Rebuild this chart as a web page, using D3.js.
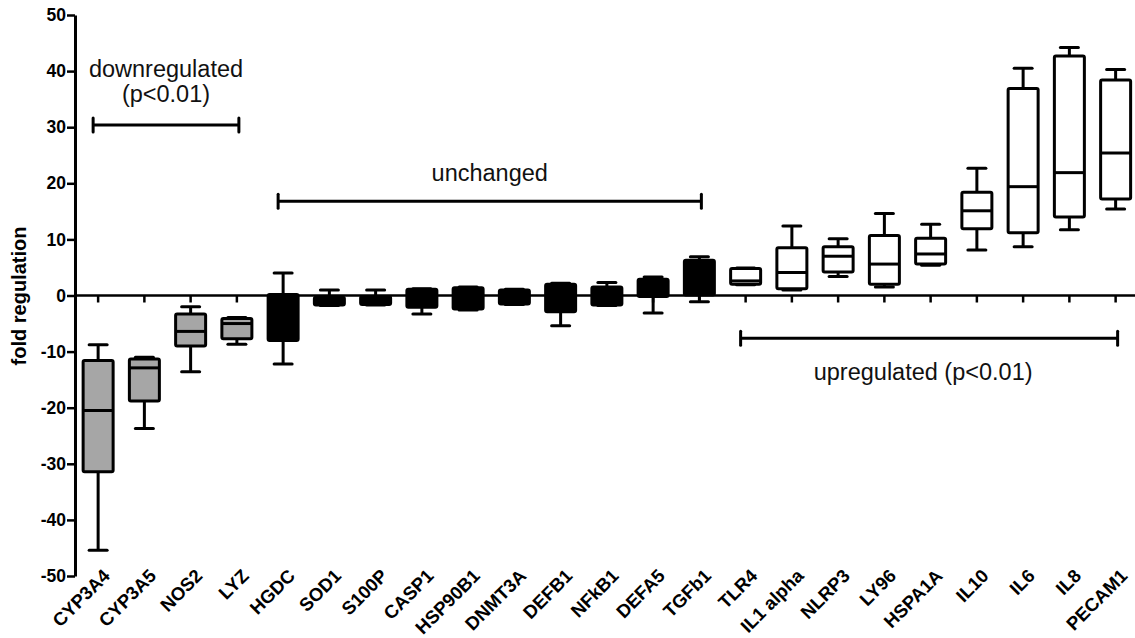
<!DOCTYPE html>
<html>
<head>
<meta charset="utf-8">
<script src="https://cdn.jsdelivr.net/npm/d3@7"></script>
<style>
  html, body { margin: 0; padding: 0; background: #fff; }
  svg { display: block; }
  text { font-family: "Liberation Sans", Arial, Helvetica, sans-serif; }
</style>
</head>
<body>
<svg id="chart" width="1135" height="638"></svg>
<script>
// ---------- data ----------
const categories = ["CYP3A4","CYP3A5","NOS2","LYZ","HGDC","SOD1","S100P","CASP1","HSP90B1","DNMT3A","DEFB1","NFkB1","DEFA5","TGFb1","TLR4","IL1 alpha","NLRP3","LY96","HSPA1A","IL10","IL6","IL8","PECAM1"];
const groups = ["down","down","down","down","unchanged","unchanged","unchanged","unchanged","unchanged","unchanged","unchanged","unchanged","unchanged","unchanged","up","up","up","up","up","up","up","up","up"];
const whiskerLow  = [-45.4,-23.7,-13.6,-8.7,-12.2,-1.8,-1.7,-3.3,-2.6,-1.6,-5.4,-1.8,-3.1,-1.1, 1.9, 1.0, 3.4, 1.5, 5.4, 8.1, 8.7,11.7,15.4];
const q1          = [-31.4,-18.8, -9.0,-7.7, -8.0,-1.7,-1.6,-2.1,-2.4,-1.5,-2.9,-1.7,-0.2, 0.1, 2.0, 1.2, 4.2, 2.0, 5.6,11.9,11.2,14.0,17.2];
const medians     = [-20.5,-12.9, -6.4,-5.0, -3.0,-0.8,-0.8,-0.5,-0.5,-0.3, 0.5, 0.0, 1.5, 4.0, 2.6, 4.1, 7.0, 5.6, 7.4,15.1,19.4,21.9,25.4];
const q3          = [-11.6,-11.3, -3.3,-4.1,  0.2,-0.3,-0.2, 1.1, 1.4, 1.0, 2.0, 1.5, 2.9, 6.3, 4.8, 8.5, 8.7,10.7,10.2,18.4,36.9,42.7,38.4];
const whiskerHigh = [ -8.8,-11.0, -2.0,-3.9,  4.0, 1.0, 1.0, 1.2, 1.5, 1.1, 2.2, 2.3, 3.3, 6.9, 4.9,12.4,10.1,14.6,12.7,22.7,40.5,44.2,40.3];
const yTicks = [-50,-40,-30,-20,-10,0,10,20,30,40,50];
const yLabel = "fold regulation";

// annotations (brackets)
const annotationLines = [["downregulated","(p<0.01)"],["unchanged"],["upregulated (p<0.01)"]];
const annotationFrom  = ["CYP3A4","HGDC","TLR4"];
const annotationTo    = ["LYZ","TGFb1","PECAM1"];
const annotationY     = [30.4, 16.8, -7.6];

// ---------- styles ----------
const fillByGroup = { down: "#a6a6a6", unchanged: "#000000", up: "#ffffff" };
const SW = 3;
const FONT = "Liberation Sans, Arial, Helvetica, sans-serif";

const svg = d3.select("#chart");
const x = d3.scaleBand().domain(categories).range([75, 75 + 23 * 46.25]).padding(0);
const y = d3.scaleLinear().domain([-50, 50]).range([576, 15]);
const cx = c => x(c) + x.bandwidth() / 2;

const boxW = 30, capW = 18;

// y axis
const yAxis = svg.append("g")
  .attr("transform", "translate(75,0)")
  .call(d3.axisLeft(y).tickValues(yTicks).tickSize(8).tickSizeOuter(0).tickPadding(1)
        .tickFormat(d => String(d)));
yAxis.select(".domain").attr("stroke", "#000").attr("stroke-width", SW);
yAxis.selectAll(".tick line").attr("stroke", "#000").attr("stroke-width", 2.5);
yAxis.selectAll(".tick text")
  .attr("fill", "#000")
  .attr("font-family", FONT)
  .attr("font-size", 17.5)
  .attr("font-weight", "bold");

// x axis at zero
const xAxis = svg.append("g")
  .attr("transform", `translate(0,${y(0)})`)
  .call(d3.axisBottom(x).tickSize(7).tickSizeOuter(0).tickFormat(""));
xAxis.select(".domain").attr("stroke", "#000").attr("stroke-width", 2.5).attr("d", `M75,0H1135`);
xAxis.selectAll(".tick line").attr("stroke", "#000").attr("stroke-width", 2.5);

// category labels at bottom (rotated)
svg.append("g").selectAll("g")
  .data(categories)
  .join("g")
  .attr("transform", d => `translate(${cx(d) + 13},${y(-50) + 1})`)
  .append("text")
  .attr("transform", "rotate(-45)")
  .attr("text-anchor", "end")
  .attr("font-family", FONT)
  .attr("font-size", 18.5)
  .attr("font-weight", "bold")
  .attr("fill", "#000")
  .text(d => d);

// y label
svg.append("text")
  .attr("transform", `translate(26,296) rotate(-90)`)
  .attr("text-anchor", "middle")
  .attr("font-family", FONT)
  .attr("font-size", 20)
  .attr("font-weight", "bold")
  .attr("fill", "#000")
  .text(yLabel);

// boxes
const idx = d3.range(categories.length);
const gBox = svg.append("g");

// whiskers
gBox.selectAll(".whisk")
  .data(idx)
  .join("g")
  .each(function(i) {
    const g = d3.select(this);
    const c = cx(categories[i]);
    g.append("line").attr("x1", c).attr("x2", c).attr("y1", y(whiskerHigh[i])).attr("y2", y(q3[i]))
      .attr("stroke", "#000").attr("stroke-width", SW);
    g.append("line").attr("x1", c).attr("x2", c).attr("y1", y(q1[i])).attr("y2", y(whiskerLow[i]))
      .attr("stroke", "#000").attr("stroke-width", SW);
    g.append("line").attr("x1", c - capW / 2).attr("x2", c + capW / 2).attr("y1", y(whiskerHigh[i])).attr("y2", y(whiskerHigh[i]))
      .attr("stroke", "#000").attr("stroke-width", SW).attr("stroke-linecap", "round");
    g.append("line").attr("x1", c - capW / 2).attr("x2", c + capW / 2).attr("y1", y(whiskerLow[i])).attr("y2", y(whiskerLow[i]))
      .attr("stroke", "#000").attr("stroke-width", SW).attr("stroke-linecap", "round");
  });

gBox.selectAll(".box")
  .data(idx)
  .join("rect")
  .attr("x", i => cx(categories[i]) - boxW / 2)
  .attr("width", boxW)
  .attr("y", i => y(q3[i]))
  .attr("height", i => y(q1[i]) - y(q3[i]))
  .attr("fill", i => fillByGroup[groups[i]])
  .attr("stroke", "#000")
  .attr("stroke-width", SW)
  .attr("rx", 1.5);

gBox.selectAll(".med")
  .data(idx)
  .join("line")
  .attr("x1", i => cx(categories[i]) - boxW / 2)
  .attr("x2", i => cx(categories[i]) + boxW / 2)
  .attr("y1", i => y(medians[i]))
  .attr("y2", i => y(medians[i]))
  .attr("stroke", "#000")
  .attr("stroke-width", SW);

// annotation brackets
const gAnn = svg.append("g");
annotationLines.forEach((lines, k) => {
  const x1 = cx(annotationFrom[k]) - 5;
  const x2 = cx(annotationTo[k]) + 2;
  const yy = y(annotationY[k]);
  gAnn.append("line").attr("x1", x1).attr("x2", x2).attr("y1", yy).attr("y2", yy)
    .attr("stroke", "#000").attr("stroke-width", SW);
  [x1, x2].forEach(xx => gAnn.append("line").attr("x1", xx).attr("x2", xx)
    .attr("y1", yy - 7).attr("y2", yy + 7).attr("stroke", "#000").attr("stroke-width", SW)
    .attr("stroke-linecap", "round"));
  const mid = (x1 + x2) / 2;
  let baselines;
  if (k === 0) baselines = [yy - 48, yy - 23];
  else if (k === 1) baselines = [yy - 20];
  else baselines = [yy + 42];
  lines.forEach((t, j) => {
    gAnn.append("text")
      .attr("x", k === 2 ? mid - 6 : mid)
      .attr("y", baselines[j])
      .attr("text-anchor", "middle")
      .attr("font-family", FONT)
      .attr("font-size", 23.5)
      .attr("fill", "#111")
      .text(t);
  });
});
</script>
</body>
</html>
